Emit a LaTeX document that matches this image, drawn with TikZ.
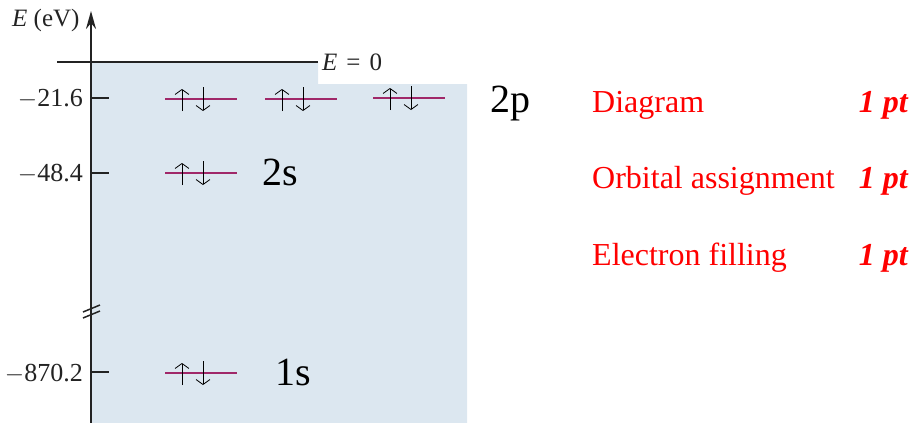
\documentclass[tikz,border=0pt]{standalone}
\usepackage{fontspec}
\setmainfont{Liberation Serif}
\usetikzlibrary{arrows.meta}
\definecolor{bgblue}{RGB}{220,231,240}
\definecolor{orb}{RGB}{160,40,105}
\definecolor{axcol}{RGB}{35,35,35}
\tikzset{
  axlabel/.style={anchor=base east, text=axcol, font=\fontsize{26}{30}\selectfont, inner sep=0pt},
  sublabel/.style={anchor=base west, font=\fontsize{40}{44}\selectfont, inner sep=0pt},
  redlabel/.style={anchor=base west, text=red, font=\fontsize{32}{36}\selectfont, inner sep=0pt},
  ptlabel/.style={anchor=base east, text=red, font=\fontsize{32}{36}\selectfont\bfseries\itshape, inner sep=0pt},
  orbline/.style={draw=orb, line width=2.5pt},
  spin/.style={draw=black, line width=0.8pt, -{Straight Barb[length=5pt,width=14pt]}},
  tick/.style={draw=axcol, line width=2pt}
}
\newcommand{\pairat}[2]{%
  \draw[spin] (#1+17,#2+12) -- (#1+17,#2-10);
  \draw[spin] (#1+38,#2-12) -- (#1+38,#2+12);
}
\begin{document}
\begin{tikzpicture}[x=1pt,y=-1pt]
\useasboundingbox (0,0) rectangle (913,423);
% shaded region
\fill[bgblue] (91,62) -- (318,62) -- (318,84) -- (467,84) -- (467,423) -- (91,423) -- cycle;
% axis
\coordinate (axbot) at (91,423);
\coordinate (axtop) at (91,11);
\draw[draw=axcol, line width=2pt, -{Stealth[length=18pt,width=10pt]}] (axbot) -- (axtop);
\coordinate (zl) at (57,62);
\coordinate (zr) at (318,62);
\draw[draw=axcol, line width=2pt] (zl) -- (zr);
\node[anchor=base west, text=axcol, font=\fontsize{25}{28}\selectfont, inner sep=0pt] (elabel) at (12,27) {\textit{E} (eV)};
\node[anchor=base west, text=axcol, font=\fontsize{25}{28}\selectfont, inner sep=0pt] (zlabel) at (322,70) {\textit{E}\hspace{9pt}=\hspace{9pt}0};
% ticks
\draw[tick] (91,98) -- (109,98);
\draw[tick] (91,173) -- (109,173);
\draw[tick] (91,372) -- (109,372);
\node[axlabel] (t1) at (83,106) {$-$21.6};
\node[axlabel] (t2) at (83,181) {$-$48.4};
\node[axlabel] (t3) at (83,381) {$-$870.2};
% axis break
\draw[draw=axcol, line width=1.5pt] (83,312) -- (100,305);
\draw[draw=axcol, line width=1.5pt] (83,318) -- (100,311);
% orbitals
\draw[orbline] (165,99) -- (237,99);
\draw[orbline] (265,99) -- (337,99);
\draw[orbline] (373,98) -- (445,98);
\draw[orbline] (165,173) -- (237,173);
\draw[orbline] (165,373) -- (237,373);
\pairat{165}{99}
\pairat{265}{99}
\pairat{373}{98}
\pairat{165}{173}
\pairat{165}{373}
\node[sublabel] (p2) at (490,112) {2p};
\node[sublabel] (s2) at (262,185) {2s};
\node[sublabel] (s1) at (275,385) {1s};
% grading
\node[redlabel] (r1) at (592,112) {Diagram};
\node[redlabel] (r2) at (592,188) {Orbital assignment};
\node[redlabel] (r3) at (592,265) {Electron filling};
\node[ptlabel] (q1) at (908,112) {1 pt};
\node[ptlabel] (q2) at (908,188) {1 pt};
\node[ptlabel] (q3) at (908,265) {1 pt};
\end{tikzpicture}
\end{document}
